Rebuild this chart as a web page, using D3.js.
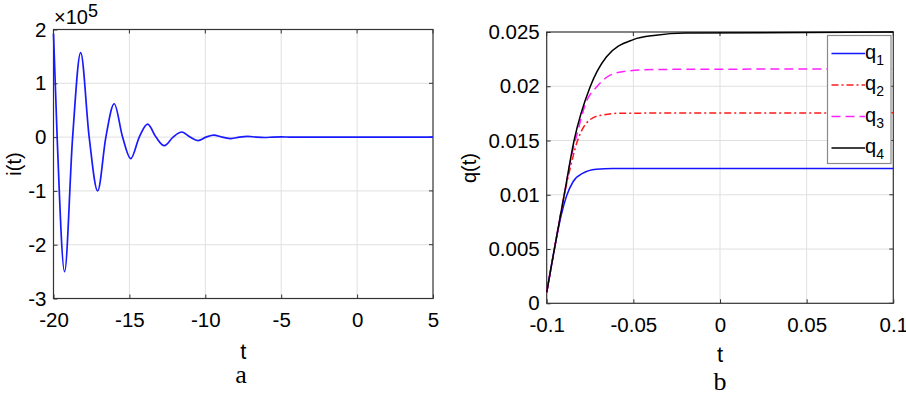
<!DOCTYPE html>
<html>
<head>
<meta charset="utf-8">
<script src="https://cdn.jsdelivr.net/npm/d3@7"></script>
<style>
  body { margin: 0; background: #fff; }
  svg text { font-family: "Liberation Sans", Arial, sans-serif; fill: #000; }
</style>
</head>
<body>
<div id="chart"></div>
<script>
// panel a: i(t), values in units of 1e5
const tA = [-20, -19.76, -19.27, -18.74, -18.21, -17.65, -17.09, -16.55, -16.0, -15.45, -14.91, -14.35, -13.8, -13.25, -12.7, -12.12, -11.55, -11.0, -10.48, -9.95, -9.45, -8.88, -8.3, -7.75, -7.2, -6.65, -6.1, -5.55, -5.0, -4.45, -3.9, -3.0, 5];
const iA = [1.92, 0, -2.5, 0, 1.57, 0, -1.0, 0, 0.62, 0, -0.4, 0, 0.24, 0, -0.16, 0, 0.095, 0, -0.065, 0, 0.037, 0, -0.028, 0, 0.013, 0, -0.007, 0, 0.004, 0, -0.002, 0, 0];
const tTicksA = [-20, -15, -10, -5, 0, 5];
const iTicksA = [-3, -2, -1, 0, 1, 2];

// panel b: q(t)
const qNames = ["q1", "q2", "q3", "q4"];
const tB = {
  q1: [-0.1, -0.095, -0.0915, -0.0885, -0.0848, -0.079, -0.0714, -0.062, 0.1],
  q2: [-0.1, -0.095, -0.09, -0.0868, -0.0828, -0.0771, -0.0695, -0.0561, 0.1],
  q3: [-0.1, -0.095, -0.09, -0.0855, -0.0828, -0.0771, -0.0714, -0.0637, -0.0542, -0.037, 0.1],
  q4: [-0.1, -0.095, -0.09, -0.0842, -0.0748, -0.0656, -0.05, -0.037, -0.02, 0.1]
};
const qB = {
  q1: [0.001, 0.0055, 0.0082, 0.0099, 0.0112, 0.012, 0.01235, 0.01243, 0.01243],
  q2: [0.001, 0.0055, 0.0099, 0.0122, 0.0147, 0.0166, 0.0173, 0.01752, 0.01755],
  q3: [0.001, 0.0055, 0.0099, 0.0137, 0.0154, 0.0186, 0.0199, 0.021, 0.0214, 0.02155, 0.0216],
  q4: [0.001, 0.0055, 0.0099, 0.015, 0.02, 0.0227, 0.0243, 0.0247, 0.0249, 0.025]
};
const tTicksB = [-0.1, -0.05, 0, 0.05, 0.1];
const qTicksB = [0, 0.005, 0.01, 0.015, 0.02, 0.025];

const colors = { q1: "#1414ff", q2: "#ff1a1a", q3: "#ff22ff", q4: "#000" };
const dashes = { q1: null, q2: "7,3,2,3", q3: "9,5", q4: null };

const svg = d3.select("#chart")
    .append("svg")
    .attr("width", 906)
    .attr("height", 394);

function panel(box, xDom, yDom, xTicks, yTicks) {
    let x = d3.scaleLinear().domain(xDom).range([box.l, box.r]);
    let y = d3.scaleLinear().domain(yDom).range([box.b, box.t]);
    let g = svg.append("g");

    // grid
    g.append("g")
        .selectAll("line")
        .data(xTicks.slice(1, -1))
        .enter()
        .append("line")
        .attr("x1", d => x(d)).attr("x2", d => x(d))
        .attr("y1", box.t).attr("y2", box.b)
        .attr("stroke", "#e0e0e0");
    g.append("g")
        .selectAll("line")
        .data(yTicks.slice(1, -1))
        .enter()
        .append("line")
        .attr("y1", d => y(d)).attr("y2", d => y(d))
        .attr("x1", box.l).attr("x2", box.r)
        .attr("stroke", "#e0e0e0");

    let ax = g.append("g")
        .attr("transform", "translate(0," + box.b + ")")
        .call(d3.axisBottom(x).tickValues(xTicks).tickSize(-4).tickSizeOuter(0).tickPadding(14).tickFormat(d => d));
    let ay = g.append("g")
        .attr("transform", "translate(" + box.l + ",0)")
        .call(d3.axisLeft(y).tickValues(yTicks).tickSize(-4).tickSizeOuter(0).tickPadding(7).tickFormat(d => d));
    [ax, ay].forEach(a => {
        a.select(".domain").remove();
        a.selectAll("line").attr("stroke", "#333");
        a.selectAll("text").attr("font-size", 20.5).attr("fill", "#000")
            .attr("font-family", "'Liberation Sans', Arial, sans-serif");
    });
    // ticks on top and right
    g.append("g").selectAll("line").data(xTicks).enter().append("line")
        .attr("x1", d => x(d)).attr("x2", d => x(d))
        .attr("y1", box.t).attr("y2", box.t + 4)
        .attr("stroke", "#333");
    g.append("g").selectAll("line").data(yTicks).enter().append("line")
        .attr("y1", d => y(d)).attr("y2", d => y(d))
        .attr("x1", box.r).attr("x2", box.r - 4)
        .attr("stroke", "#333");

    g.append("rect")
        .attr("x", box.l).attr("y", box.t)
        .attr("width", box.r - box.l).attr("height", box.b - box.t)
        .attr("fill", "none")
        .attr("stroke", "#333")
        .attr("stroke-width", 1.2);
    return { g: g, x: x, y: y };
}

// ---- panel a
let pa = panel({ l: 53.5, r: 433, t: 29.5, b: 298.5 }, [-20, 5], [-3, 2], tTicksA, iTicksA);

let lineA = d3.line()
    .x(d => pa.x(d[0]))
    .y(d => pa.y(d[1]))
    .curve(d3.curveMonotoneX);

pa.g.append("path")
    .datum(tA.map((t, i) => [t, iA[i]]))
    .attr("d", lineA)
    .attr("fill", "none")
    .attr("stroke", "#1a1aff")
    .attr("stroke-width", 1.7);

let ex = svg.append("text")
    .attr("x", 54)
    .attr("y", 24)
    .attr("font-size", 20);
ex.append("tspan").text("\u00d710");
ex.append("tspan").attr("dy", -7).attr("font-size", 18).text("5");

svg.append("text")
    .attr("transform", "translate(21,164) rotate(-90)")
    .attr("text-anchor", "middle")
    .attr("font-size", 20)
    .text("i(t)");

svg.append("text")
    .attr("x", 243.3)
    .attr("y", 358.5)
    .attr("text-anchor", "middle")
    .attr("font-size", 22)
    .text("t");

svg.append("text")
    .attr("x", 241)
    .attr("y", 383)
    .attr("text-anchor", "middle")
    .attr("font-size", 26)
    .style("font-family", "'Liberation Serif', 'DejaVu Serif', serif")
    .text("a");

// ---- panel b
let pb = panel({ l: 546.7, r: 893.3, t: 32, b: 303.3 }, [-0.1, 0.1], [0, 0.025], tTicksB, qTicksB);

let lineB = d3.line()
    .x(d => pb.x(d[0]))
    .y(d => pb.y(d[1]))
    .curve(d3.curveMonotoneX);

qNames.forEach(k => {
    pb.g.append("path")
        .datum(tB[k].map((t, i) => [t, qB[k][i]]))
        .attr("d", lineB)
        .attr("fill", "none")
        .attr("stroke", colors[k])
        .attr("stroke-width", 1.5)
        .attr("stroke-dasharray", dashes[k]);
});

// legend
let leg = svg.append("g");
leg.append("rect")
    .attr("x", 827.5).attr("y", 35.5)
    .attr("width", 63.5).attr("height", 128)
    .attr("fill", "#fff")
    .attr("stroke", "#8a8a8a")
    .attr("stroke-width", 1.2);

let legY = d3.scalePoint().domain(qNames).range([53.5, 148]);
qNames.forEach(k => {
    leg.append("line")
        .attr("x1", 831.5).attr("x2", 865)
        .attr("y1", legY(k)).attr("y2", legY(k))
        .attr("stroke", colors[k])
        .attr("stroke-width", 1.5)
        .attr("stroke-dasharray", dashes[k]);
    let tx = leg.append("text")
        .attr("x", 865)
        .attr("y", legY(k) + 5)
        .attr("font-size", 20);
    tx.append("tspan").text("q");
    tx.append("tspan").attr("dy", 6).attr("font-size", 14).text(k.slice(1));
});

svg.append("text")
    .attr("transform", "translate(476,168) rotate(-90)")
    .attr("text-anchor", "middle")
    .attr("font-size", 20)
    .text("q(t)");

svg.append("text")
    .attr("x", 720)
    .attr("y", 361.7)
    .attr("text-anchor", "middle")
    .attr("font-size", 22)
    .text("t");

svg.append("text")
    .attr("x", 720)
    .attr("y", 390)
    .attr("text-anchor", "middle")
    .attr("font-size", 26)
    .style("font-family", "'Liberation Serif', 'DejaVu Serif', serif")
    .text("b");
</script>
</body>
</html>
